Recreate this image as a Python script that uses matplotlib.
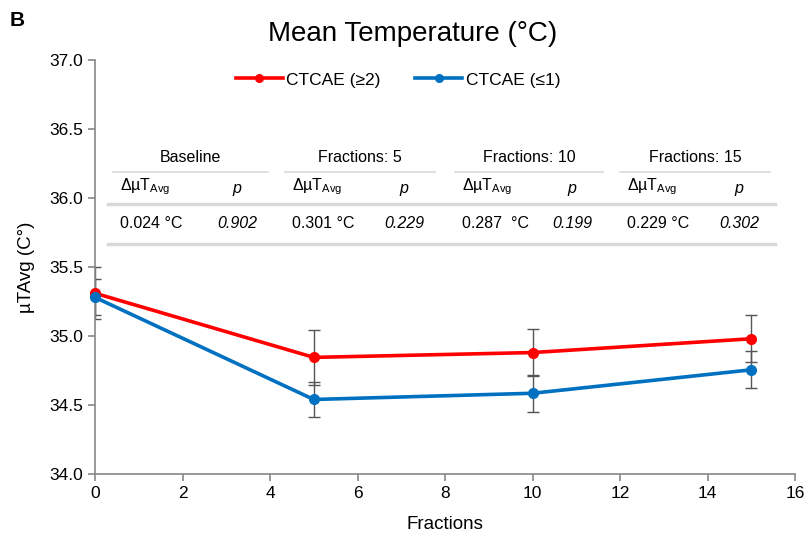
import matplotlib
matplotlib.use('Agg')
import matplotlib.pyplot as plt
from matplotlib.lines import Line2D
import numpy as np

plt.rcParams['font.family'] = ['Liberation Sans', 'DejaVu Sans']

## data
fractions = [0, 5, 10, 15]
high_mean = [35.31, 34.845, 34.88, 34.98]   # CTCAE (>=2)
high_err = [0.19, 0.20, 0.17, 0.17]
low_mean = [35.28, 34.54, 34.585, 34.755]   # CTCAE (<=1)
low_err = [0.13, 0.13, 0.135, 0.135]

table_heads = ['Baseline', 'Fractions: 5', 'Fractions: 10', 'Fractions: 15']
delta_vals = ['0.024 °C', '0.301 °C', '0.287  °C', '0.229 °C']
p_vals = ['0.902', '0.229', '0.199', '0.302']

W, H = 807, 537
fig = plt.figure(figsize=(W/100, H/100), dpi=100)
ax = fig.add_axes([95/W, 1-474/H, 700/W, 414/H])

red = '#ff0000'
blue = '#0070c0'
for mean, err, col, lab in [(high_mean, high_err, red, 'CTCAE (≥2)'), (low_mean, low_err, blue, 'CTCAE (≤1)')]:
    # error bars clipped at the axis, line and markers not
    ax.errorbar(fractions, mean, yerr=err, fmt='none', ecolor='#555555', elinewidth=1,
                capsize=4, capthick=1, zorder=2)
    ax.plot(fractions, mean, color=col, lw=2.6, marker='o', ms=7, label=lab, zorder=3, clip_on=False)

ax.set_xlim(0, 16)
ax.set_ylim(34.0, 37.0)
ax.set_xticks(np.arange(0, 17, 2))
ax.set_yticks(np.arange(34.0, 37.01, 0.5))
ax.set_yticklabels(['%.1f' % v for v in np.arange(34.0, 37.01, 0.5)])
for s in ['top', 'right']:
    ax.spines[s].set_visible(False)
for s in ['left', 'bottom']:
    ax.spines[s].set_color('#888888')
    ax.spines[s].set_linewidth(1.2)
ax.tick_params(colors='#888888', labelcolor='black', labelsize=12.5, length=5, width=1.2)
ax.set_xlabel('Fractions', fontsize=13.5, labelpad=11)
ax.set_ylabel('µTAvg (C°)', fontsize=13.5, labelpad=10)

fig.text(268/W, 1-34/H, 'Mean Temperature (°C)', fontsize=20, va='center', ha='left')
fig.text(10/W, 1-20/H, 'B', fontsize=15, fontweight='bold', va='center', ha='left')

handles = [Line2D([], [], color=red, lw=2.6, marker='o', ms=5.5),
           Line2D([], [], color=blue, lw=2.6, marker='o', ms=5.5)]
ax.legend(handles, ['CTCAE (≥2)', 'CTCAE (≤1)'], loc='center',
          bbox_to_anchor=((398-95)/700, (474-80)/414), ncol=2, frameon=False,
          fontsize=12.5, handlelength=2.7, columnspacing=2.0, handletextpad=0.2)

## summary table drawn in figure pixels
def fx(px): return px/W
def fy(py): return 1-py/H

group_l = [113, 285, 455, 620]
group_r = [268, 435, 603, 770]
fs = 11.5
for i, head in enumerate(table_heads):
    l, r = group_l[i], group_r[i]
    fig.text(fx((l+r)/2), fy(158), head, fontsize=fs, ha='center', va='center')
    fig.add_artist(plt.Line2D([fx(l), fx(r)], [fy(172), fy(172)], color='#d9d9d9', lw=1.2))
    fig.text(fx(l+7), fy(187), 'ΔµT$_{\\mathregular{Avg}}$', fontsize=fs, ha='left', va='center')
    fig.text(fx(r-31), fy(188), 'p', fontsize=fs, ha='center', va='center', style='italic')
    fig.text(fx(l+7), fy(223), delta_vals[i], fontsize=fs, ha='left', va='center')
    fig.text(fx(r-31), fy(223), p_vals[i], fontsize=fs, ha='center', va='center', style='italic')
fig.add_artist(plt.Line2D([fx(108), fx(775)], [fy(204), fy(204)], color='#d9d9d9', lw=2.5))
fig.add_artist(plt.Line2D([fx(108), fx(775)], [fy(244), fy(244)], color='#d9d9d9', lw=2.5))

fig.savefig('out.png', dpi=100)
